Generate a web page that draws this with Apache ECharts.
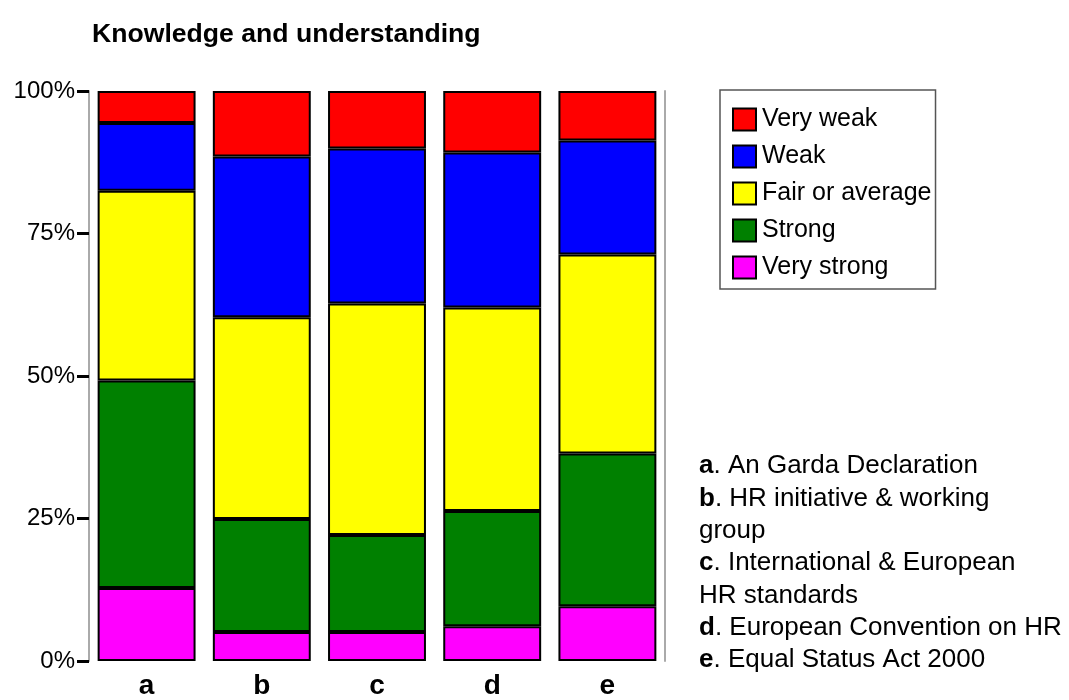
<!DOCTYPE html>
<html>
<head>
<meta charset="utf-8">
<script src="https://cdn.jsdelivr.net/npm/echarts@6/dist/echarts.min.js"></script>
<style>
html,body{margin:0;padding:0;background:#fff;}
#chart{width:1069px;height:700px;}
</style>
</head>
<body>
<div id="chart"></div>
<script>
const categories = ['a', 'b', 'c', 'd', 'e'];
const veryStrong = [12.8, 5.1, 5.1, 6.1, 9.6];
const strong     = [36.4, 19.8, 17.0, 20.2, 26.8];
const fair       = [33.3, 35.4, 40.6, 35.7, 34.9];
const weak       = [11.9, 28.2, 27.2, 27.2, 20.0];
const veryWeak   = [5.6, 11.5, 10.1, 10.8, 8.7];
const yTicks = [0, 25, 50, 75, 100];
const notes = [
  ['a', 'An Garda Declaration'],
  ['b', 'HR initiative & working\ngroup'],
  ['c', 'International & European\nHR standards'],
  ['d', 'European Convention on HR'],
  ['e', 'Equal Status Act 2000']
];

const FONT = 'Liberation Sans, Arial, sans-serif';
const chart = echarts.init(document.getElementById('chart'), null, {renderer: 'canvas'});

function mk(name, data, color) {
  return {
    name: name, type: 'bar', stack: 'total', data: data,
    barCategoryGap: '15%',
    itemStyle: {color: color, borderColor: '#000', borderWidth: 2},
    emphasis: {disabled: true}
  };
}

let noteText = notes.map(n => {
  const parts = n[1].split('\n');
  let s = '{b|' + n[0] + '}{t|. ' + parts[0] + '}';
  for (let i = 1; i < parts.length; i++) s += '\n{t|' + parts[i] + '}';
  return s;
}).join('\n');

chart.setOption({
  animation: false,
  backgroundColor: '#fff',
  textStyle: {fontFamily: FONT},
  title: [{
    text: 'Knowledge and understanding',
    left: 87, top: 16,
    textStyle: {fontSize: 26.6, fontWeight: 'bold', color: '#000', fontFamily: FONT}
  }, {
    text: noteText,
    left: 694, top: 445,
    textStyle: {
      fontWeight: 'normal',
      rich: {
        b: {fontSize: 26, fontWeight: 'bold', color: '#000', fontFamily: FONT, lineHeight: 32.3},
        t: {fontSize: 26, fontWeight: 'normal', color: '#000', fontFamily: FONT, lineHeight: 32.3}
      }
    }
  }],
  legend: {
    orient: 'vertical',
    left: 720, top: 90,
    padding: [17, 4, 9, 12],
    itemGap: 12,
    itemWidth: 23, itemHeight: 22,
    icon: 'rect',
    borderColor: '#555', borderWidth: 1.5,
    data: ['Very weak', 'Weak', 'Fair or average', 'Strong', 'Very strong'],
    textStyle: {fontSize: 25, color: '#000', fontFamily: FONT, padding: [0, 0, 0, 1]}
  },
  grid: {left: 89, right: 404, top: 91, bottom: 33.5, containLabel: false},
  xAxis: {
    type: 'category', data: categories,
    axisLine: {show: false}, axisTick: {show: false},
    axisLabel: {fontSize: 28, fontWeight: 'bold', color: '#000', margin: 11, fontFamily: FONT}
  },
  yAxis: [{
    type: 'value', min: 0, max: 100, interval: 25,
    axisLine: {show: true, lineStyle: {color: '#aaa', width: 2}},
    axisTick: {show: true, length: 12, lineStyle: {color: '#000', width: 3}},
    splitLine: {show: false},
    axisLabel: {formatter: '{value}%', fontSize: 24, color: '#000', margin: 14, fontFamily: FONT}
  }, {
    type: 'value', min: 0, max: 100, interval: 25, position: 'right',
    axisLine: {show: true, lineStyle: {color: '#aaa', width: 2}},
    axisTick: {show: false}, axisLabel: {show: false}, splitLine: {show: false}
  }],
  series: [
    mk('Very strong', veryStrong, '#ff00ff'),
    mk('Strong', strong, '#008000'),
    mk('Fair or average', fair, '#ffff00'),
    mk('Weak', weak, '#0000ff'),
    mk('Very weak', veryWeak, '#ff0000')
  ]
});
</script>
</body>
</html>
